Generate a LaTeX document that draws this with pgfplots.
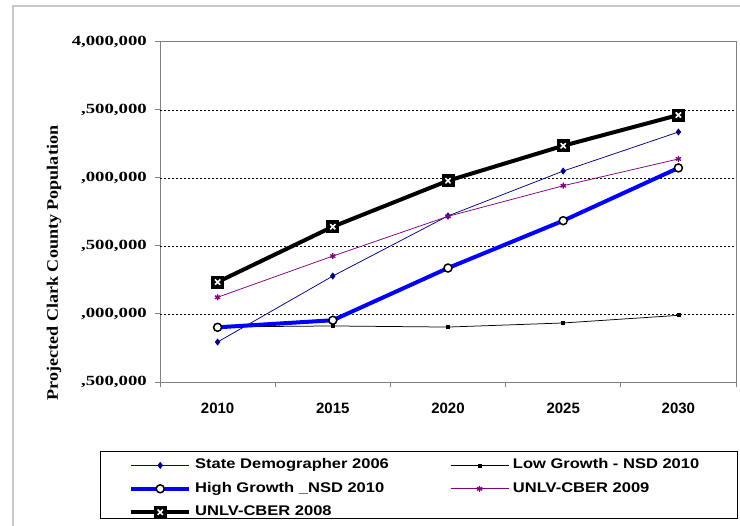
\documentclass[border=0pt]{standalone}
\usepackage{fontspec}
\setmainfont{Liberation Sans}
\newfontfamily\labserif{Liberation Serif}[FakeStretch=1.13]
\newfontfamily\tickserif{Liberation Serif}[FakeStretch=1.34]
\newfontfamily\legfont{Liberation Sans}[FakeStretch=1.18]
\usepackage{pgfplots}
\pgfplotsset{compat=1.18}

\definecolor{navyblue}{RGB}{0,0,128}
\definecolor{hgblue}{RGB}{0,0,255}
\definecolor{cberpurple}{RGB}{128,0,128}
\definecolor{framegray}{RGB}{200,200,200}
\definecolor{axisgray}{RGB}{128,128,128}

% black square with a white cross (UNLV-CBER 2008)
\pgfdeclareplotmark{sqx}{%
  \pgfpathrectangle{\pgfpoint{-\pgfplotmarksize}{-\pgfplotmarksize}}%
    {\pgfpoint{2\pgfplotmarksize}{2\pgfplotmarksize}}%
  \pgfsetfillcolor{black}\pgfusepathqfill
  \pgfsetstrokecolor{white}\pgfsetlinewidth{1.6bp}%
  \pgfpathmoveto{\pgfpoint{-0.4\pgfplotmarksize}{-0.4\pgfplotmarksize}}%
  \pgfpathlineto{\pgfpoint{0.4\pgfplotmarksize}{0.4\pgfplotmarksize}}%
  \pgfpathmoveto{\pgfpoint{-0.4\pgfplotmarksize}{0.4\pgfplotmarksize}}%
  \pgfpathlineto{\pgfpoint{0.4\pgfplotmarksize}{-0.4\pgfplotmarksize}}%
  \pgfusepathqstroke
}

\newcommand\legtext[1]{\makebox[251bp][l]{#1}}

\begin{document}
\begin{tikzpicture}
\useasboundingbox (0,0) rectangle (740bp,526bp);
\draw[framegray, line width=2bp] (13bp,-20bp) -- (13bp,519.5bp) -- (760bp,519.5bp);
\draw[black, line width=0.8bp] (100.5bp,7.5bp) rectangle (737bp,74.3bp);
\begin{axis}[
  at={(160bp,144bp)}, anchor=south west,
  scale only axis, width=576bp, height=340bp,
  xmin=-0.5, xmax=4.5, ymin=1500000, ymax=4000000,
  xtick={0,1,2,3,4},
  xticklabels={2010,2015,2020,2025,2030},
  minor xtick={-0.5,0.5,1.5,2.5,3.5,4.5},
  ytick={1500000,2000000,2500000,3000000,3500000,4000000},
  yticklabels={{,500,000},{,000,000},{,500,000},{,000,000},{,500,000},{4,000,000}},
  extra y ticks={2000000,2500000,3000000,3500000},
  extra y tick labels={},
  extra y tick style={ymajorgrids=true, major tick length=0pt},
  scaled y ticks=false,
  xtick pos=bottom, ytick pos=left,
  tick align=outside,
  major tick length=5bp, minor tick length=5bp,
  major x tick style={draw=none},
  major y tick style={axisgray, line width=1bp},
  minor x tick style={axisgray, line width=1bp},
  axis line style={axisgray, line width=1bp},
  major grid style={black, line width=0.8bp, dash pattern=on 2bp off 2bp},
  xticklabel style={font=\bfseries\fontsize{15bp}{17bp}\selectfont, inner sep=0pt, anchor=north, yshift=-16bp},
  yticklabel style={font=\tickserif\bfseries\fontsize{14bp}{16bp}\selectfont, inner sep=0pt, anchor=east, xshift=-8bp},
  ylabel={Projected Clark County Population},
  every axis y label/.style={at={(axis description cs:-0.184,0.35)}, rotate=90, anchor=center,
    font=\labserif\bfseries\fontsize{16bp}{18bp}\selectfont},
  legend columns=2,
  legend cell align=left,
  legend style={at={(axis description cs:-0.0538,-0.2103)}, anchor=north west,
    draw=none, fill=none, inner sep=0pt, column sep=0pt, row sep=0pt,
    font=\legfont\bfseries\fontsize{14bp}{16bp}\selectfont,
    nodes={inner xsep=4bp, inner ysep=4.2bp, text height=11bp, text depth=4bp}},
  legend image code/.code={
    \draw[mark repeat=2, mark phase=2, #1] plot coordinates {(0bp,0bp) (29bp,0bp) (58bp,0bp)};
  },
]
\addplot[navyblue, line width=0.75bp, mark=diamond*, mark size=3bp, mark options={solid, fill=navyblue}]
  coordinates {(0,1794000) (1,2279000) (2,2721000) (3,3051000) (4,3338000)};
\addlegendentry{\legtext{State Demographer 2006}}
\addplot[black, line width=0.75bp, mark=square*, mark size=1.5bp, mark options={solid, fill=black}]
  coordinates {(0,1905000) (1,1912000) (2,1904000) (3,1934000) (4,1990000)};
\addlegendentry{Low Growth - NSD 2010}
\addplot[hgblue, line width=4bp, mark=*, mark size=4bp, mark options={solid, fill=white, draw=black, line width=1.5bp}]
  coordinates {(0,1902000) (1,1954000) (2,2338000) (3,2686000) (4,3074000)};
\addlegendentry{\legtext{High Growth \_NSD 2010}}
\addplot[cberpurple, line width=0.75bp, mark=asterisk, mark size=3bp, mark options={solid, line width=1.3bp}]
  coordinates {(0,2123000) (1,2426000) (2,2718000) (3,2943000) (4,3140000)};
\addlegendentry{UNLV-CBER 2009}
\addplot[black, line width=4bp, mark=sqx, mark size=6.5bp, mark options={solid}]
  coordinates {(0,2235000) (1,2642000) (2,2980000) (3,3237000) (4,3463000)};
\addlegendentry{\legtext{UNLV-CBER 2008}}
\end{axis}
\end{tikzpicture}
\end{document}
